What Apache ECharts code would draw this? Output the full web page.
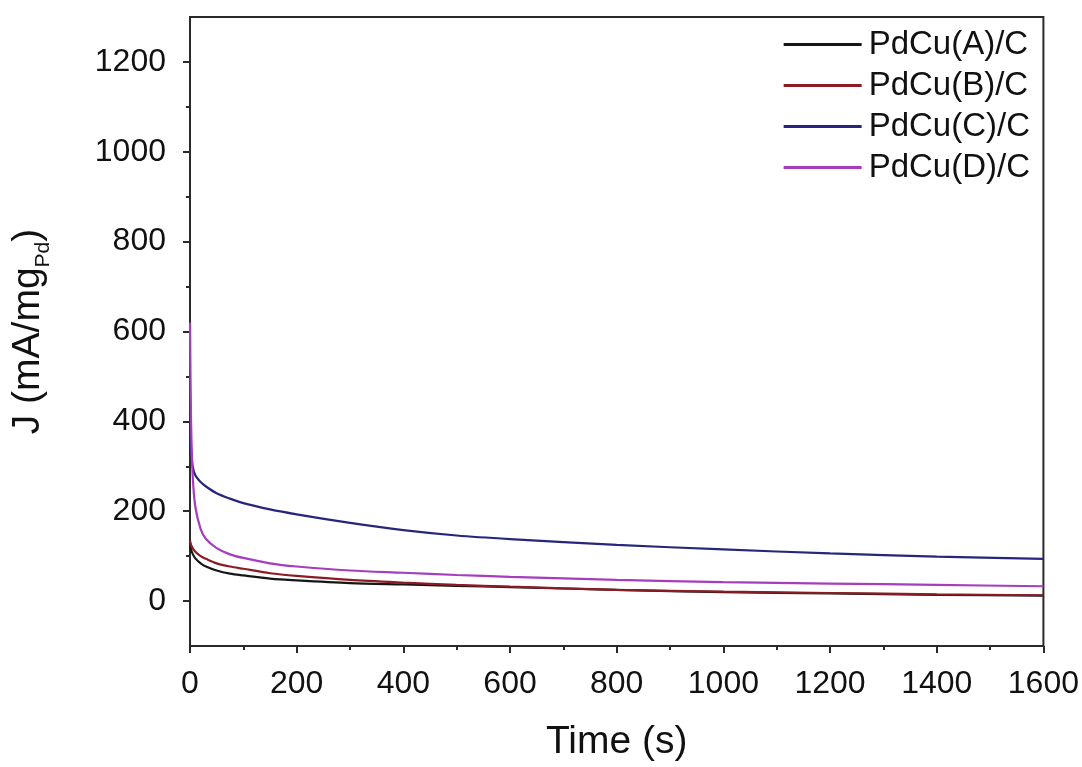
<!DOCTYPE html>
<html>
<head>
<meta charset="utf-8">
<script src="https://cdn.jsdelivr.net/npm/echarts@6/dist/echarts.min.js"></script>
<style>
  html, body { margin: 0; padding: 0; background: #fff; }
  #chart { width: 1082px; height: 767px; }
</style>
</head>
<body>
<div id="chart"></div>
<script>
// Chronoamperometry: current density vs. time for the four PdCu/C catalysts
const timeS = [0, 2, 5, 10, 20, 30, 50, 75, 100, 150, 200, 300, 400, 500, 600, 800, 1000, 1200, 1400, 1600];
const seriesNames = ['PdCu(A)/C', 'PdCu(B)/C', 'PdCu(C)/C', 'PdCu(D)/C'];
const jA = [130, 115, 105, 95, 84, 77, 68, 61, 57, 50, 46, 40, 37, 34, 31, 25, 20, 17, 14, 12];
const jB = [135, 125, 118, 110, 100, 94, 84, 77, 72, 62, 56, 47, 41, 36, 32, 25, 21, 18, 15, 13];
const jC = [420, 340, 300, 280, 265, 255, 240, 228, 218, 204, 193, 174, 158, 146, 138, 125, 115, 106, 99, 94];
const jD = [620, 400, 280, 210, 160, 138, 118, 104, 96, 84, 77, 68, 63, 58, 54, 47, 42, 39, 36, 33];
const yMajorTicks = [0, 200, 400, 600, 800, 1000, 1200];
const yMinorTicks = [100, 300, 500, 700, 900, 1100];

const colors = ['#161616', '#8b1c24', '#26267c', '#a63cbe'];
const values = [jA, jB, jC, jD];

const FONT = '"Liberation Sans", Arial, sans-serif';
const AXIS_COLOR = '#2a2a2a';
const plainNumber = v => String(v);

const series = seriesNames.map((name, i) => ({
  name: name,
  type: 'line',
  data: timeS.map((t, k) => [t, values[i][k]]),
  showSymbol: false,
  smooth: 0.3,
  lineStyle: { color: colors[i], width: 2.2 },
  itemStyle: { color: colors[i] },
  z: 2 + i
}));

const chart = echarts.init(document.getElementById('chart'), null, { renderer: 'canvas' });
chart.setOption({
  animation: false,
  backgroundColor: '#ffffff',
  grid: {
    left: 190, right: 37, top: 17, bottom: 119,
    show: true, borderColor: AXIS_COLOR, borderWidth: 2, backgroundColor: 'transparent'
  },
  legend: {
    orient: 'vertical',
    right: 47,
    top: 23,
    itemWidth: 78,
    itemHeight: 3,
    itemGap: 8,
    icon: 'rect',
    data: seriesNames,
    textStyle: { fontFamily: FONT, fontSize: 33, color: '#111', lineHeight: 33, padding: [0, 0, 0, 2] }
  },
  xAxis: {
    type: 'value',
    min: 0, max: 1600, interval: 200,
    name: 'Time (s)',
    nameLocation: 'middle',
    nameGap: 77,
    nameTextStyle: { fontFamily: FONT, fontSize: 39, color: '#111' },
    axisLine: { show: true, onZero: false, lineStyle: { color: AXIS_COLOR, width: 2 } },
    axisTick: { show: true, inside: false, length: 7, lineStyle: { color: AXIS_COLOR, width: 2 } },
    minorTick: { show: true, splitNumber: 2, length: 4, lineStyle: { color: AXIS_COLOR, width: 2 } },
    splitLine: { show: false },
    axisLabel: { fontFamily: FONT, fontSize: 32, color: '#111', margin: 22, formatter: plainNumber }
  },
  yAxis: [
    {
      type: 'value',
      min: -100, max: 1300,
      name: '{a|J (mA/mg}{s|Pd}{a|)}',
      nameLocation: 'middle',
      nameGap: 142,
      nameTextStyle: {
        rich: {
          a: { fontFamily: FONT, fontSize: 39, color: '#111', lineHeight: 44, verticalAlign: 'bottom' },
          s: { fontFamily: FONT, fontSize: 21, color: '#111', lineHeight: 44, verticalAlign: 'bottom', padding: [0, 0, -6, 0] }
        }
      },
      axisLine: { show: true, onZero: false, lineStyle: { color: AXIS_COLOR, width: 2 } },
      axisTick: { show: true, inside: false, length: 7, customValues: yMajorTicks, lineStyle: { color: AXIS_COLOR, width: 2 } },
      axisLabel: { fontFamily: FONT, fontSize: 32, color: '#111', margin: 24, customValues: yMajorTicks, formatter: plainNumber },
      splitLine: { show: false }
    },
    {
      type: 'value',
      min: -100, max: 1300,
      position: 'left',
      axisLine: { show: false },
      axisTick: { show: true, inside: false, length: 4, customValues: yMinorTicks, lineStyle: { color: AXIS_COLOR, width: 2 } },
      axisLabel: { show: false },
      splitLine: { show: false }
    }
  ],
  series: series
});
</script>
</body>
</html>
